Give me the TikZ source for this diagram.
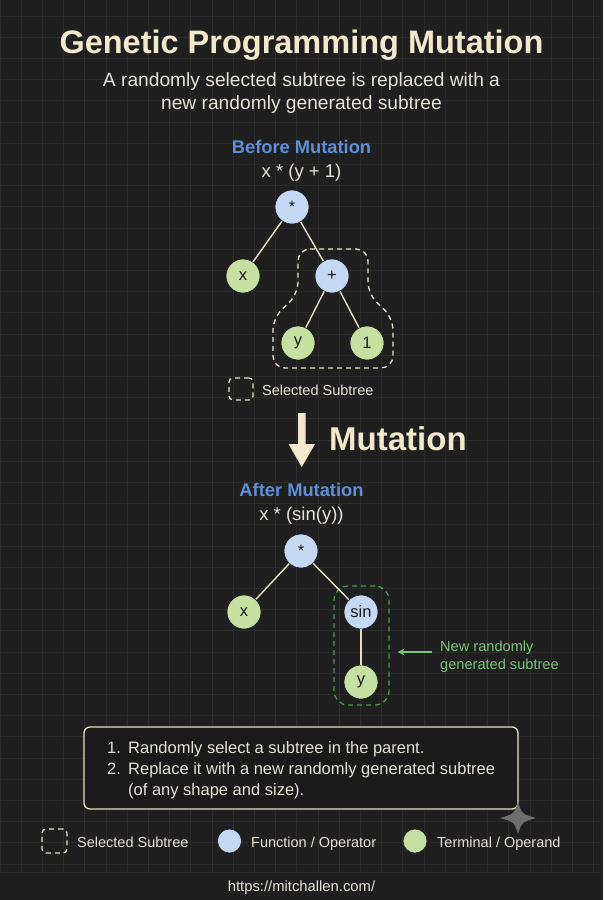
\documentclass[tikz,border=0pt]{standalone}
\usepackage{fontspec}
\setmainfont{Liberation Sans}
\usetikzlibrary{arrows.meta}
\definecolor{bg}{HTML}{1F1F1F}
\definecolor{gridc}{HTML}{2B2B2B}
\definecolor{cream}{HTML}{F2E9CC}
\definecolor{subt}{HTML}{E6E2D8}
\definecolor{hblue}{HTML}{5E8FD8}
\definecolor{edgec}{HTML}{E8E0C4}
\definecolor{nblue}{HTML}{C4D7F3}
\definecolor{ngreen}{HTML}{C5E0A0}
\definecolor{ndark}{HTML}{1A1A1A}
\definecolor{gdash}{HTML}{4C9A4C}
\definecolor{gtext}{HTML}{7CC47C}
\definecolor{boxfill}{HTML}{1A1A1A}
\definecolor{spark}{HTML}{6E6E6E}
\tikzset{
  fs/.style={font=\fontsize{#1}{#1}\selectfont},
  treenode/.style={circle, minimum size=34pt, inner sep=0pt, draw=ndark, line width=0.6pt, text=ndark, fs=16.5},
  fn/.style={treenode, fill=nblue},
  term/.style={treenode, fill=ngreen},
  edge/.style={draw=edgec, line width=1.4pt},
  seldash/.style={draw=edgec!90, line width=1.3pt, dash pattern=on 5pt off 4pt},
  gseldash/.style={draw=gdash, line width=1.3pt, dash pattern=on 5pt off 4pt},
  txt/.style={inner sep=0pt, anchor=base},
  txtw/.style={inner sep=0pt, anchor=base west},
}
\begin{document}
\begin{tikzpicture}[x=1pt,y=-1pt]
\useasboundingbox (0,0) rectangle (603,900);
\fill[bg] (0,0) rectangle (603,900);
\foreach \i in {0,...,28} \draw[gridc, line width=0.8pt] ({\i*21.2},0) -- ({\i*21.2},872);
\foreach \j in {0,...,40} \draw[gridc, line width=0.8pt] (0,{16+\j*21.2}) -- (603,{16+\j*21.2});
\fill[bg] (0,872) rectangle (603,900);
\draw[gridc, line width=1pt] (0,872) -- (603,872);

% titles
\node[txt, fs=32.5, text=cream] (title) at (301.5,53) {\bfseries Genetic Programming Mutation};
\node[txt, fs=19.2, text=subt] (sub1) at (301.5,86) {A randomly selected subtree is replaced with a};
\node[txt, fs=19.2, text=subt] (sub2) at (301.5,109) {new randomly generated subtree};

% before
\node[txt, fs=18.3, text=hblue] (before) at (301.5,153) {\bfseries Before Mutation};
\node[txt, fs=18.5, text=subt] (expr1) at (301.5,177) {x * (y + 1)};

\draw[seldash, rounded corners=12pt] (298,249) -- (368,249) -- (368,294) -- (393,318) -- (393,368) -- (273,368) -- (273,318) -- (298,294) -- cycle;

\node[fn] (b1) at (292,207) {*};
\node[term] (b2) at (243,276) {x};
\node[fn] (b3) at (332,276) {+};
\node[term] (b4) at (298,343) {y};
\node[term] (b5) at (367,343) {1};
\draw[edge] (b1) -- (b2);
\draw[edge] (b1) -- (b3);
\draw[edge] (b3) -- (b4);
\draw[edge] (b3) -- (b5);

\node[seldash, rounded corners=4pt, minimum width=24pt, minimum height=22pt, inner sep=0pt] (lsel1) at (241,389) {};
\node[txtw, fs=14.5, text=subt] (lsel1t) at (262,395) {Selected Subtree};

% mutation arrow
\fill[cream] (298,413) -- (305.5,413) -- (305.5,444) -- (315,444) -- (301.75,467) -- (288.5,444) -- (298,444) -- cycle;
\node[txtw, fs=33, text=cream] (mut) at (329,450) {\bfseries Mutation};

% after
\node[txt, fs=18.3, text=hblue] (after) at (301.5,496) {\bfseries After Mutation};
\node[txt, fs=18.5, text=subt] (expr2) at (301.5,520) {x * (sin(y))};

\node[gseldash, rounded corners=14pt, minimum width=55pt, minimum height=119pt, inner sep=0pt] (gbox) at (361.5,645.5) {};

\node[fn] (a1) at (301,551) {*};
\node[term] (a2) at (244,612) {x};
\node[fn] (a3) at (361,612) {sin};
\node[term] (a4) at (361,682) {y};
\draw[edge] (a1) -- (a2);
\draw[edge] (a1) -- (a3);
\draw[edge] (a3) -- (a4);

\node[txtw, fs=14.6, text=gtext, align=left] (newl1) at (440,651) {New randomly};
\node[txtw, fs=14.6, text=gtext, align=left] (newl2) at (440,669) {generated subtree};
\coordinate (gtail) at (432,652);
\draw[-{Stealth[length=7pt,width=7pt]}, draw=gtext, fill=gtext, line width=1.4pt, shorten >=8pt] (gtail) -- (gbox.east |- gtail);

% steps box
\node[draw=edgec, line width=1.3pt, fill=boxfill, rounded corners=6pt, minimum width=434pt, minimum height=82pt, inner sep=0pt] (steps) at (301,768) {};
\node[txtw, fs=16.5, text=subt] (n1) at (107,753) {1.};
\node[txtw, fs=16.5, text=subt] (s1) at (128,753) {Randomly select a subtree in the parent.};
\node[txtw, fs=16.5, text=subt] (n2) at (107,774) {2.};
\node[txtw, fs=16.5, text=subt] (s2) at (128,774) {Replace it with a new randomly generated subtree};
\node[txtw, fs=16.5, text=subt] (s3) at (128,795) {(of any shape and size).};

% sparkle
\fill[spark] (518,802) .. controls (522,814) .. (536,818) .. controls (522,822) .. (518,834) .. controls (514,822) .. (500,818) .. controls (514,814) .. (518,802) -- cycle;

% legend
\node[seldash, rounded corners=4pt, minimum width=25pt, minimum height=24pt, inner sep=0pt] (lg1) at (54.5,841) {};
\node[txtw, fs=14.5, text=subt] (lg1t) at (77,847) {Selected Subtree};
\node[circle, fill=nblue, draw=ndark, line width=0.6pt, minimum size=24pt, inner sep=0pt] (lg2) at (229.5,841) {};
\node[txtw, fs=14.5, text=subt] (lg2t) at (251,847) {Function / Operator};
\node[circle, fill=ngreen, draw=ndark, line width=0.6pt, minimum size=24pt, inner sep=0pt] (lg3) at (415,841) {};
\node[txtw, fs=14.5, text=subt] (lg3t) at (437,847) {Terminal / Operand};

\node[txt, fs=14.8, text=subt] (url) at (301.5,891) {https://mitchallen.com/};
\end{tikzpicture}
\end{document}
